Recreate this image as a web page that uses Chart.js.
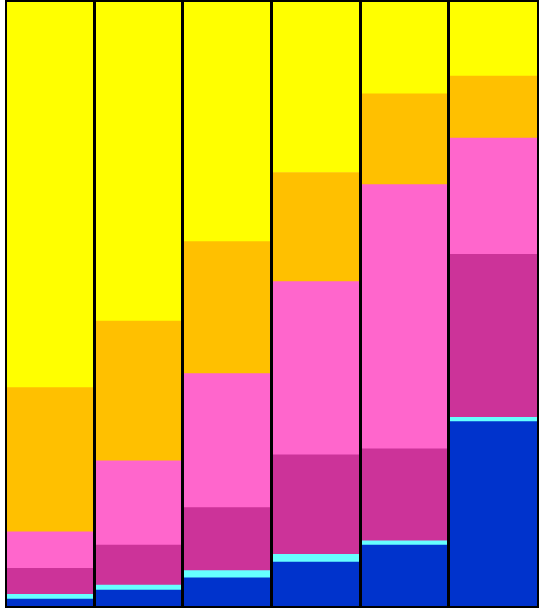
<!DOCTYPE html>
<html>
<head>
<meta charset="utf-8">
<script src="https://cdn.jsdelivr.net/npm/chart.js@4"></script>
<style>
html,body{margin:0;padding:0;background:#fff;}
#wrap{width:545px;height:610px;}
</style>
</head>
<body>
<div id="wrap"><canvas id="c"></canvas></div>
<script>
const categories = ["1", "2", "3", "4", "5", "6"];
const seriesBlue    = [1.3, 2.8, 4.8, 7.4, 10.2, 30.6];
const seriesCyan    = [0.8, 0.8, 1.2, 1.3, 0.7, 0.7];
const seriesMagenta = [4.3, 6.6, 10.4, 16.4, 15.2, 26.9];
const seriesPink    = [6.0, 13.9, 22.1, 28.6, 43.6, 19.2];
const seriesOrange  = [23.8, 23.1, 21.8, 18.0, 15.0, 10.2];
const seriesYellow  = [64.0, 52.9, 39.7, 28.3, 15.2, 12.4];

const colors = ["#0033CC", "#66FFFF", "#CC3399", "#FF66CC", "#FFC000", "#FFFF00"];
const series = [seriesBlue, seriesCyan, seriesMagenta, seriesPink, seriesOrange, seriesYellow];

const frameLines = {
  id: "frameLines",
  afterDatasetsDraw(chart) {
    const ctx = chart.ctx;
    const a = chart.chartArea;
    const xs = chart.scales.x;
    ctx.save();
    ctx.strokeStyle = "#000";
    ctx.lineWidth = 3;
    ctx.beginPath();
    for (let i = 1; i < categories.length; i++) {
      const px = Math.round((xs.getPixelForValue(i - 1) + xs.getPixelForValue(i)) / 2) - 0.5;
      ctx.moveTo(px, a.top);
      ctx.lineTo(px, a.bottom);
    }
    ctx.stroke();
    ctx.lineWidth = 2;
    ctx.strokeRect(a.left, a.top, a.right - a.left, a.bottom - a.top);
    ctx.restore();
  }
};

new Chart(document.getElementById("c"), {
  type: "bar",
  data: {
    labels: categories,
    datasets: series.map((d, i) => ({
      data: d,
      backgroundColor: colors[i],
      borderWidth: 0,
      barPercentage: 1,
      categoryPercentage: 1
    }))
  },
  plugins: [frameLines],
  options: {
    responsive: true,
    maintainAspectRatio: false,
    animation: false,
    layout: { padding: { left: 6, right: 7, top: 1, bottom: 3 } },
    plugins: { legend: { display: false }, tooltip: { enabled: false } },
    scales: {
      x: {
        stacked: true,
        grid: { display: false, drawTicks: false },
        border: { display: false },
        ticks: { display: false }
      },
      y: {
        stacked: true,
        min: 0,
        max: 100,
        grid: { display: false, drawTicks: false },
        border: { display: false },
        ticks: { display: false }
      }
    }
  }
});
</script>
</body>
</html>
